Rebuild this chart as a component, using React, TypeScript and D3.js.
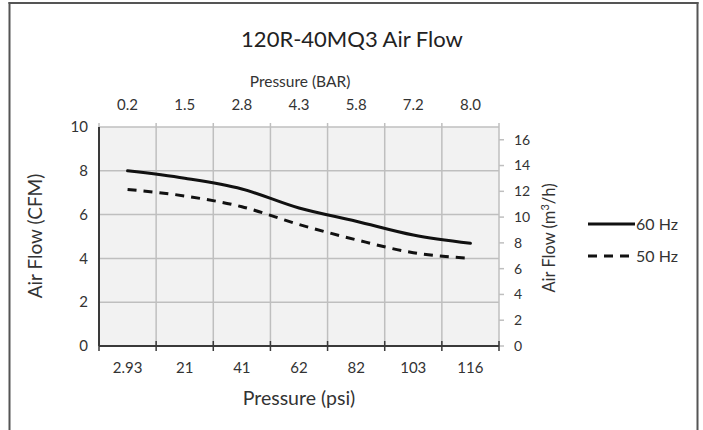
import React from "react";
import * as d3 from "d3";

const categories = ["2.93", "21", "41", "62", "82", "103", "116"];
const barLabels = ["0.2", "1.5", "2.8", "4.3", "5.8", "7.2", "8.0"];
const hz60 = [8.0, 7.66, 7.17, 6.3, 5.7, 5.07, 4.69];
const hz50 = [7.15, 6.85, 6.36, 5.55, 4.85, 4.26, 4.0];
const leftTicks = [0, 2, 4, 6, 8, 10];
const rightTicks = [0, 2, 4, 6, 8, 10, 12, 14, 16];
const CFM_TO_M3H = 1.699;

export default function App() {
  const W = 703, H = 430;
  const left = 99, right = 499, top = 127, bottom = 346;
  const font = "Lato, 'Open Sans', sans-serif";
  const x = d3.scaleBand<string>().domain(categories).range([left, right]).paddingInner(0).paddingOuter(0);
  const y = d3.scaleLinear().domain([0, 10]).range([bottom, top]);
  const y2 = d3.scaleLinear().domain([0, 10 * CFM_TO_M3H]).range([bottom, top]);
  const cx = (c: string) => (x(c) as number) + x.bandwidth() / 2;
  const line = d3
    .line<number>()
    .x((_, i) => cx(categories[i]))
    .y((d) => y(d))
    .curve(d3.curveMonotoneX);
  const bounds = categories.map((c) => x(c) as number).concat([right]);
  const grid = "#bfbfbf";
  const axisDark = "#3a3a3a";
  const textCol = "#333";

  return (
    <div style={{ position: "absolute", left: 0, top: 0 }}>
      <svg width={W} height={H} style={{ display: "block", fontFamily: font }}>
        <rect x={0} y={0} width={W} height={H} fill="#fff" />
        <line x1={9.5} x2={9.5} y1={2} y2={H} stroke="#555" strokeWidth={2} />
        <line x1={8.5} x2={698.5} y1={3} y2={3} stroke="#555" strokeWidth={2} />
        <line x1={697.5} x2={697.5} y1={2} y2={H} stroke="#555" strokeWidth={2} />
        <text x={352} y={47} textAnchor="middle" fontSize={22} fill="#222">120R-40MQ3 Air Flow</text>

        <rect x={left} y={top} width={right - left} height={bottom - top} fill="#f2f2f2" />
        {leftTicks.map((t) => (
          <line key={"h" + t} x1={left} x2={right} y1={y(t)} y2={y(t)} stroke={grid} strokeWidth={1.5} />
        ))}
        {bounds.map((b, i) => (
          <line key={"v" + i} x1={b} x2={b} y1={top - 4} y2={bottom} stroke={grid} strokeWidth={1.5} />
        ))}
        {rightTicks.map((t) => (
          <g key={"r" + t}>
            <line x1={right} x2={right + 5} y1={y2(t)} y2={y2(t)} stroke={grid} strokeWidth={1.5} />
            <text x={514} y={y2(t)} dy="0.35em" fontSize={14} fill={textCol}>{t}</text>
          </g>
        ))}
        <line x1={left} x2={left} y1={top} y2={bottom} stroke={axisDark} strokeWidth={2} />
        <line x1={left} x2={right} y1={bottom} y2={bottom} stroke={axisDark} strokeWidth={2} />
        {bounds.map((b, i) => (
          <line key={"bt" + i} x1={b} x2={b} y1={bottom - 5} y2={bottom + 5} stroke={axisDark} strokeWidth={1.5} />
        ))}
        {leftTicks.map((t) => (
          <text key={"l" + t} x={88} y={y(t)} dy="0.35em" textAnchor="end" fontSize={15} fill={textCol}>{t}</text>
        ))}
        {categories.map((c) => (
          <text key={"c" + c} x={cx(c)} y={368} dy="0.35em" textAnchor="middle" fontSize={15} fill={textCol}>{c}</text>
        ))}
        {barLabels.map((b, i) => (
          <text key={"b" + b} x={cx(categories[i])} y={105} dy="0.35em" textAnchor="middle" fontSize={15} fill={textCol}>{b}</text>
        ))}
        <text x={300} y={82} dy="0.35em" textAnchor="middle" fontSize={15.5} fill={textCol}>Pressure (BAR)</text>
        <text x={299} y={398} dy="0.35em" textAnchor="middle" fontSize={19.5} fill={textCol}>Pressure (psi)</text>
        <text transform="translate(35,236) rotate(-90)" dy="0.35em" textAnchor="middle" fontSize={19} fill={textCol}>Air Flow (CFM)</text>
        <text transform="translate(549,238) rotate(-90)" dy="0.35em" textAnchor="middle" fontSize={16.5} fill={textCol}>
          Air Flow (m<tspan dy="-6" fontSize={11}>3</tspan><tspan dy="6">/h)</tspan>
        </text>

        <path d={line(hz60) || ""} fill="none" stroke="#111" strokeWidth={3} strokeLinecap="round" />
        <path d={line(hz50) || ""} fill="none" stroke="#111" strokeWidth={3} strokeDasharray="9,7" />

        <line x1={588} x2={635} y1={224} y2={224} stroke="#111" strokeWidth={3} />
        <text x={636} y={224} dy="0.35em" fontSize={16} fill={textCol}>60 Hz</text>
        <line x1={588} x2={635} y1={256} y2={256} stroke="#111" strokeWidth={3} strokeDasharray="9,7" />
        <text x={636} y={256} dy="0.35em" fontSize={16} fill={textCol}>50 Hz</text>
      </svg>
    </div>
  );
}
